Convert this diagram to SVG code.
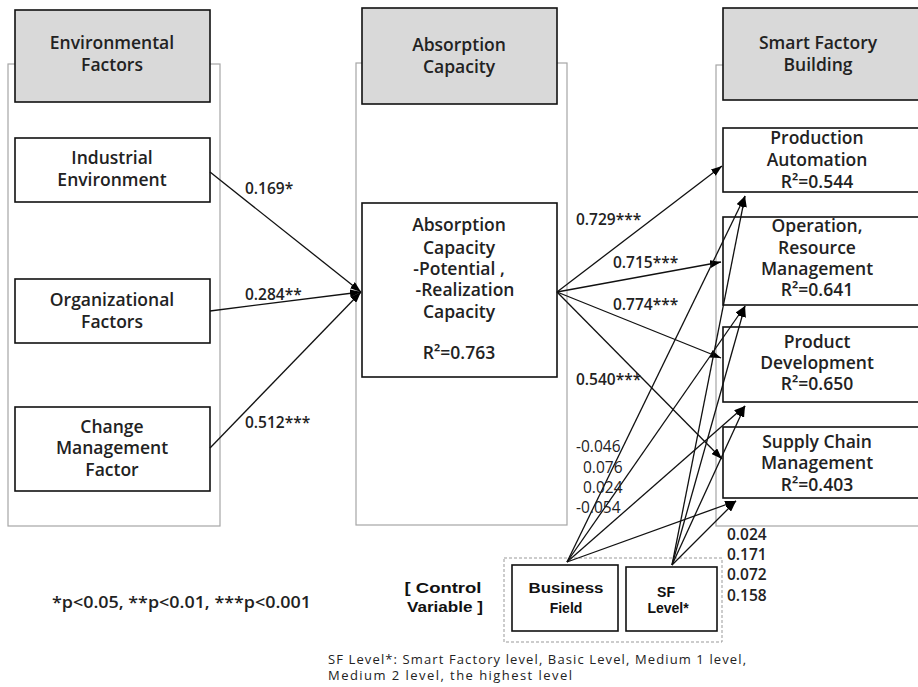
<svg xmlns="http://www.w3.org/2000/svg" width="918" height="687" viewBox="0 0 918 687">
<defs>
<marker id="ah" markerUnits="userSpaceOnUse" markerWidth="11" markerHeight="8" refX="11" refY="4" orient="auto">
<path d="M0,0 L11,4 L0,8 z" fill="#000"/>
</marker>
<style>
.frame{fill:none;stroke:#a6a6a6;stroke-width:1.2}
.hdr{fill:#d9d9d9;stroke:#111;stroke-width:1.6}
.box{fill:#fff;stroke:#111;stroke-width:1.6}
.t{font-family:"Open Sans","Noto Sans",sans-serif;font-size:17.5px;font-weight:600;fill:#222;text-anchor:middle}
.lb{font-family:"Open Sans","Noto Sans",sans-serif;font-size:15.5px;font-weight:600;fill:#222}
.rn{font-family:"Open Sans","Noto Sans",sans-serif;font-size:15.5px;font-weight:600;fill:#222}
.cn{font-family:"Open Sans","Noto Sans",sans-serif;font-size:15.5px;fill:#222}
.cv{font-family:"Liberation Sans",Arial,sans-serif;font-size:14px;font-weight:bold;fill:#111;text-anchor:middle}
.fn{font-family:"Open Sans","Noto Sans",sans-serif;font-size:13px;fill:#222}
.ln{fill:none;stroke:#111;stroke-width:1.3;marker-end:url(#ah)}
</style>
</defs>
<rect width="918" height="687" fill="#fff"/>

<!-- column frames -->
<rect class="frame" x="8" y="64" width="212" height="462"/>
<rect class="frame" x="356" y="63" width="211" height="462"/>
<rect class="frame" x="716" y="65" width="230" height="461"/>

<g id="hdr-env">
<rect class="hdr" x="15" y="10" width="195" height="92"/>
<text class="t" x="112" y="49">Environmental</text>
<text class="t" x="112" y="71">Factors</text>
</g>
<g id="hdr-abs">
<rect class="hdr" x="362" y="8" width="195" height="96"/>
<text class="t" x="459" y="51">Absorption</text>
<text class="t" x="459" y="73">Capacity</text>
</g>
<g id="hdr-sf">
<rect class="hdr" x="723" y="8" width="200" height="92"/>
<text class="t" x="818" y="49">Smart Factory</text>
<text class="t" x="818" y="71">Building</text>
</g>

<g id="industrial">
<rect class="box" x="15" y="138" width="195" height="64"/>
<text class="t" x="112" y="164">Industrial</text>
<text class="t" x="112" y="186">Environment</text>
</g>
<g id="organizational">
<rect class="box" x="15" y="279" width="195" height="64"/>
<text class="t" x="112" y="306">Organizational</text>
<text class="t" x="112" y="328">Factors</text>
</g>
<g id="change">
<rect class="box" x="15" y="407" width="195" height="84"/>
<text class="t" x="112" y="433">Change</text>
<text class="t" x="112" y="454">Management</text>
<text class="t" x="112" y="476">Factor</text>
</g>

<g id="absorption">
<rect class="box" x="362" y="203" width="195" height="174"/>
<text class="t" x="459" y="231">Absorption</text>
<text class="t" x="459" y="254">Capacity</text>
<text class="t" x="459" y="275">-Potential ,</text>
<text class="t" x="465" y="296">-Realization</text>
<text class="t" x="459" y="318">Capacity</text>
<text class="t" x="459" y="359">R²=0.763</text>
</g>

<g id="production">
<rect class="box" x="723" y="128" width="200" height="64"/>
<text class="t" x="817" y="144">Production</text>
<text class="t" x="817" y="166">Automation</text>
<text class="t" x="817" y="188">R²=0.544</text>
</g>
<g id="operation">
<rect class="box" x="723" y="217" width="200" height="88"/>
<text class="t" x="817" y="232">Operation,</text>
<text class="t" x="817" y="254">Resource</text>
<text class="t" x="817" y="275">Management</text>
<text class="t" x="817" y="296">R²=0.641</text>
</g>
<g id="product">
<rect class="box" x="723" y="327" width="200" height="75"/>
<text class="t" x="817" y="348">Product</text>
<text class="t" x="817" y="369">Development</text>
<text class="t" x="817" y="390">R²=0.650</text>
</g>
<g id="supply">
<rect class="box" x="723" y="427" width="200" height="71"/>
<text class="t" x="817" y="448">Supply Chain</text>
<text class="t" x="817" y="469">Management</text>
<text class="t" x="817" y="491">R²=0.403</text>
</g>

<g id="control">
<rect x="504" y="558" width="218" height="84" fill="none" stroke="#999" stroke-width="1" stroke-dasharray="3,2"/>
<text class="cv" x="443" y="593" textLength="77" lengthAdjust="spacingAndGlyphs">[ Control</text>
<text class="cv" x="445" y="612" textLength="76" lengthAdjust="spacingAndGlyphs">Variable ]</text>
</g>
<g id="business">
<rect class="box" x="512" y="565" width="106" height="66"/>
<text class="cv" x="566" y="593" textLength="75" lengthAdjust="spacingAndGlyphs">Business</text>
<text class="cv" x="566" y="613">Field</text>
</g>
<g id="sflevel">
<rect class="box" x="626" y="567" width="91" height="64"/>
<text class="cv" x="666" y="597">SF</text>
<text class="cv" x="668" y="613">Level*</text>
</g>

<g id="connectors">
<path class="ln" d="M210,172 L361,292"/>
<path class="ln" d="M210,311 L361,292"/>
<path class="ln" d="M210,448 L361,292"/>
<path class="ln" d="M557,292 L722,166"/>
<path class="ln" d="M557,292 L721,262"/>
<path class="ln" d="M557,292 L721,358"/>
<path class="ln" d="M557,292 L722,459"/>
<path class="ln" d="M567,562 L745,196"/>
<path class="ln" d="M567,562 L745,306"/>
<path class="ln" d="M567,562 L745,406"/>
<path class="ln" d="M567,562 L736,501"/>
<path class="ln" d="M672,565 L745,196"/>
<path class="ln" d="M672,565 L745,306"/>
<path class="ln" d="M672,565 L745,406"/>
<path class="ln" d="M672,565 L736,501"/>
</g>

<g id="labels">
<text class="lb" x="245" y="194">0.169*</text>
<text class="lb" x="245" y="300">0.284**</text>
<text class="lb" x="245" y="428">0.512***</text>
<text class="lb" x="576" y="225">0.729***</text>
<text class="lb" x="613" y="268">0.715***</text>
<text class="lb" x="613" y="310">0.774***</text>
<text class="lb" x="576" y="385">0.540***</text>
<text class="cn" x="576" y="452">-0.046</text>
<text class="cn" x="583" y="473">0.076</text>
<text class="cn" x="583" y="493">0.024</text>
<text class="cn" x="576" y="513">-0.054</text>
<text class="rn" x="727" y="540">0.024</text>
<text class="rn" x="727" y="560">0.171</text>
<text class="rn" x="727" y="580">0.072</text>
<text class="rn" x="727" y="601">0.158</text>
<text class="lb" x="52" y="608" textLength="259" lengthAdjust="spacingAndGlyphs">*p&lt;0.05, **p&lt;0.01, ***p&lt;0.001</text>
<text class="fn" x="328" y="664" textLength="418" lengthAdjust="spacing">SF Level*: Smart Factory level, Basic Level, Medium 1 level,</text>
<text class="fn" x="328" y="680" textLength="244" lengthAdjust="spacing">Medium 2 level, the highest level</text>
</g>
</svg>
